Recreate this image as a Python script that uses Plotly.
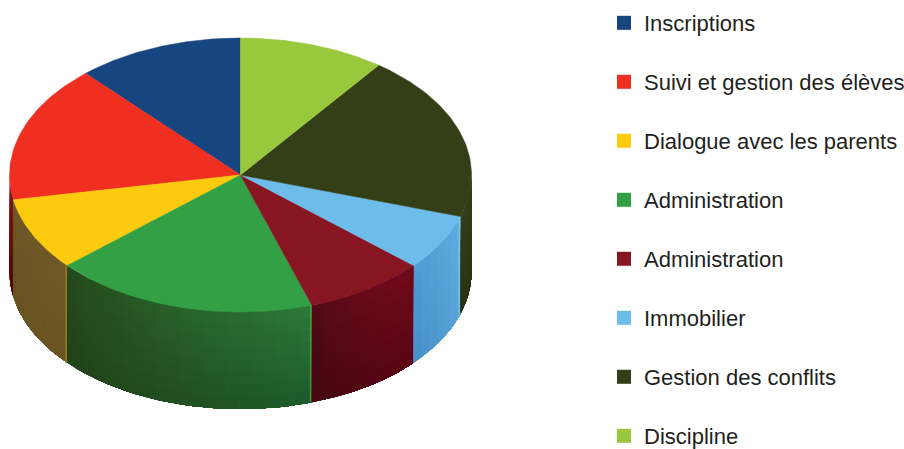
import numpy as np
import plotly.graph_objects as go

labels = ["Inscriptions", "Suivi et gestion des élèves", "Dialogue avec les parents",
          "Administration", "Administration", "Immobilier", "Gestion des conflits", "Discipline"]
values = [11.7, 16.2, 8.6, 18.5, 8.5, 6.6, 19.7, 10.2]
top_colors = ["#17457f", "#ef3020", "#fdca0e", "#33a045", "#871522", "#6dbcea", "#333f17", "#98c93c"]
# wall shading: (top start, top end, bottom start, bottom end), following the slice left to right
wall_colors = [
    ("#17457f", "#17457f", "#0c2a50", "#0c2a50"),
    ("#8a1c12", "#7a1610", "#4c0808", "#4c0808"),
    ("#6d5726", "#6f5926", "#665122", "#6a5522"),
    ("#25491c", "#2c7a38", "#234218", "#1d5a2c"),
    ("#3f0c12", "#720a1c", "#380a0e", "#5a0414"),
    ("#4d9bd2", "#62aee2", "#4690c8", "#5aa4d8"),
    ("#333f17", "#333f17", "#2a3312", "#2a3312"),
    ("#98c93c", "#98c93c", "#5e8020", "#5e8020"),
]
wall_gamma = [1, 1, 1, 1, 0.35, 1, 1, 1]
edge_colors = [None, None, "#8f7228", "#3f9a40", None, "#7cc6ee", None, None]

W, H = 904, 449
CX, CY, RX, RY, DEPTH = 240.5, 175.0, 231.0, 137.0, 97.0


def hex2rgb(c):
    return np.array([int(c[i:i + 2], 16) for i in (1, 3, 5)], float)


def mix(c, t_x, t_y):
    tl, tr, bl, br = [hex2rgb(k) for k in c]
    v = (tl * (1 - t_x) + tr * t_x) * (1 - t_y) + (bl * (1 - t_x) + br * t_x) * t_y
    return "rgb(%d,%d,%d)" % tuple(v.round())


def px(a):
    # a = clockwise angle from 12 o'clock
    return RX * np.sin(a)


def py(a):
    return -RY * np.cos(a)


fig = go.Figure()

# angles: slices run counter-clockwise from 12 o'clock
fractions = np.array(values) / sum(values)
edges = 2 * np.pi - np.concatenate([[0], np.cumsum(fractions)]) * 2 * np.pi

# walls: nested regions painted in order, so no seams show between shading cells
for i in range(len(values)):
    hi, lo = edges[i], edges[i + 1]
    a0, a1 = max(lo, np.pi / 2), min(hi, 3 * np.pi / 2)
    if a1 <= a0:
        continue
    n = max(2, int((a1 - a0) / np.radians(3)))
    rows = 8
    grid = np.linspace(a1, a0, n + 1)  # left to right on the front face
    for j in range(n):
        for r in range(rows):
            aa = np.linspace(grid[j], grid[-1], max(4, (n - j) * 2))
            d0 = DEPTH * r / rows
            xs = list(CX + px(aa)) + list(CX + px(aa[::-1]))
            ys = list(CY + py(aa) + d0) + list(CY + py(aa[::-1]) + DEPTH)
            col = mix(wall_colors[i], ((j + .5) / n) ** wall_gamma[i], (r + .5) / rows)
            fig.add_trace(go.Scatter(x=xs, y=ys, mode="lines", fill="toself", fillcolor=col,
                                     line=dict(width=0), hoverinfo="skip", showlegend=False))
    if edge_colors[i]:
        e = grid[-1]
        fig.add_trace(go.Scatter(x=[CX + px(e) - 1] * 2, y=[CY + py(e), CY + py(e) + DEPTH], mode="lines",
                                 line=dict(color=edge_colors[i], width=2), hoverinfo="skip", showlegend=False))

# top surface
for i in range(len(values)):
    aa = np.linspace(edges[i], edges[i + 1], 60)
    xs = [CX] + list(CX + px(aa)) + [CX]
    ys = [CY] + list(CY + py(aa)) + [CY]
    fig.add_trace(go.Scatter(x=xs, y=ys, mode="lines", fill="toself", fillcolor=top_colors[i],
                             line=dict(width=0.5, color=top_colors[i]), hoverinfo="skip", showlegend=False))

# legend entries
for i, name in enumerate(labels):
    fig.add_trace(go.Scatter(x=[None], y=[None], mode="markers", name=name, legendgroup=str(i),
                             marker=dict(symbol="square", size=14, color=top_colors[i])))

fig.update_layout(
    width=W, height=H, margin=dict(l=0, r=0, t=0, b=0, autoexpand=False),
    paper_bgcolor="white", plot_bgcolor="white",
    xaxis=dict(range=[0, W], visible=False, fixedrange=True),
    yaxis=dict(range=[H, 0], visible=False, fixedrange=True),
    legend=dict(x=604 / W, y=1 - 2 / H, xanchor="left", yanchor="top", tracegroupgap=27.4,
                itemsizing="trace", bgcolor="rgba(0,0,0,0)",
                font=dict(family="Liberation Sans", size=22, color="#231f20")),
)
fig.write_html("out.html", config={"displayModeBar": False},
               post_script="document.body.style.margin='0';document.body.style.overflow='hidden';")
